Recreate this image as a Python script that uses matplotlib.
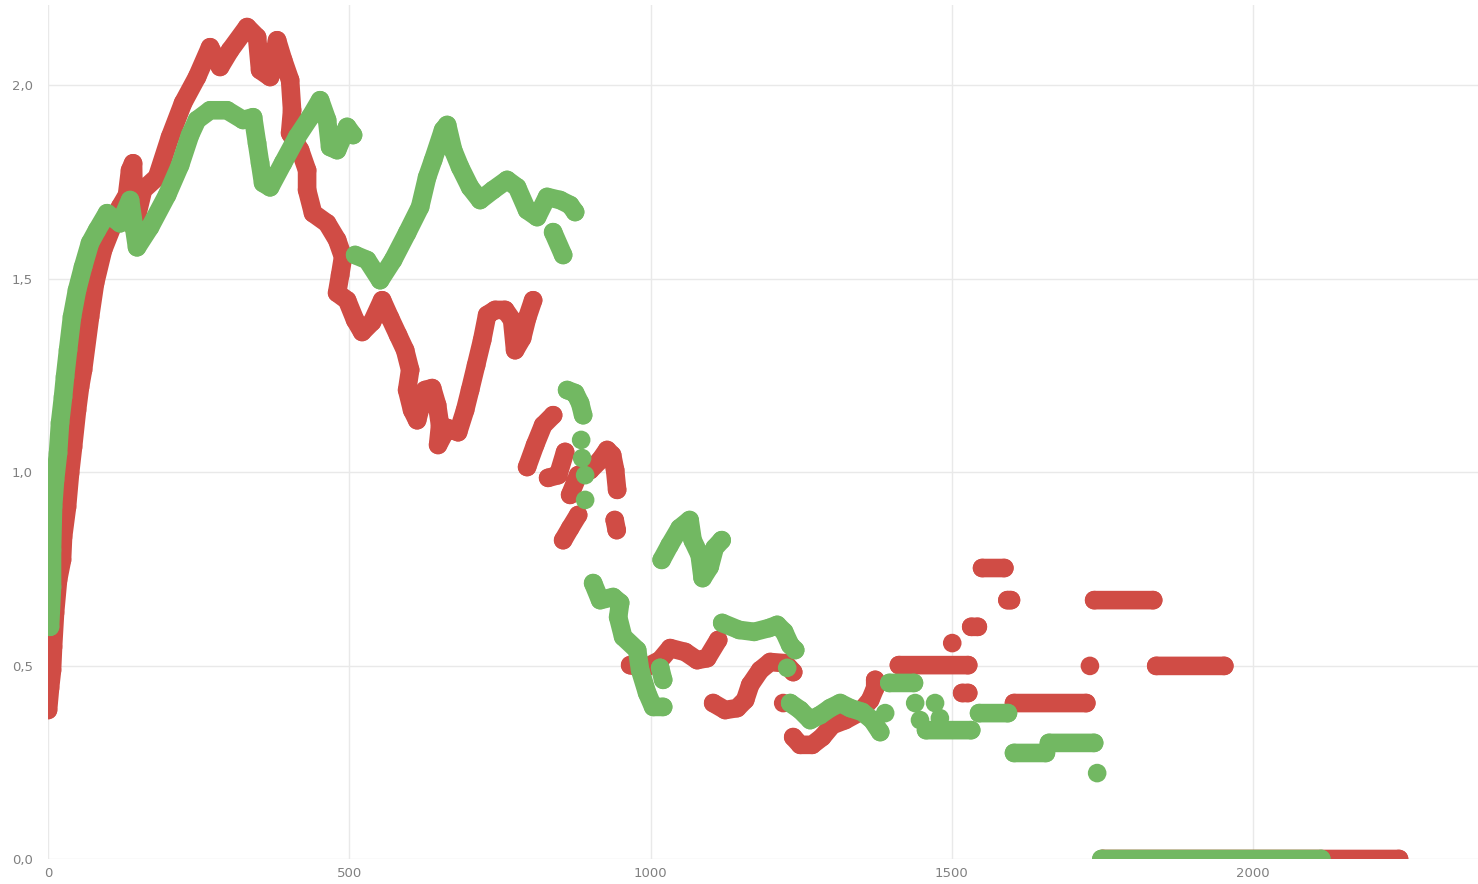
import numpy as np
import matplotlib
matplotlib.use('Agg')
import matplotlib.pyplot as plt

nan = np.nan

# Red series (segments separated by nan, lone values are single dots)
red_x = [0, 3.3, 6.6, 8.3, 11.6, 16.6, 23.2, 24.9, 31.5, 36.5, 41.5, 48.1, 53.1, 58.1,
         69.7, 78.0, 91.3, 106.2, 119.5, 131.1, 136.1, 141.1, 142.7, 157.7, 180.9, 202.5,
         224.1, 247.3, 268.9, 285.5, 302.1, 330.3, 346.9, 351.9, 368.5, 380.1, 390.1,
         401.7, 405.0, 401.7, 418.3, 429.9, 429.9, 439.8, 463.1, 479.7, 489.6, 484.7,
         479.7, 496.3, 509.6, 521.2, 537.8, 554.4, 567.7, 580.9, 592.6, 600.9, 595.9,
         604.2, 612.5, 625.7, 637.4, 645.7, 650.6, 647.3, 662.3, 680.5, 692.1, 700.4,
         710.4, 720.4, 728.7, 741.9, 758.5, 770.2, 775.1, 786.7, 795.0, 805.0, nan,
         795.0, 808.3, 821.6, 838.2, nan,
         829.9, 846.5, 858.1, nan,
         866.4, 879.7, 899.6, 916.2, 927.8, 936.1, 941.1, 944.4, nan,
         854.8, 866.4, 879.7, nan,
         940.4, 943.7, nan,
         966.0, 990.9, 1015.8, 1032.4, 1057.3, 1077.2, 1093.8, 1112.1, nan,
         1103.8, 1123.7, 1143.6, 1156.9, 1165.2, 1181.8, 1198.4, 1223.3, 1236.6, nan,
         1220.0, nan,
         1236.6, 1248.2, 1268.1, 1284.7, 1301.3, 1322.9, 1347.8, 1364.4, 1372.7, 1372.7, nan,
         1412, 1527, nan, 1517, 1527, nan, 1500.5, nan, 1532, 1543, nan,
         1550, 1587, nan, 1592, 1598, nan, 1603, 1723, nan, 1729, nan,
         1839, 1952, nan, 1736, 1834, nan, 1750, 2242]
red_y = [0.385, 0.442, 0.488, 0.548, 0.636, 0.721, 0.773, 0.832, 0.910, 0.997, 1.065, 1.160,
         1.220, 1.264, 1.401, 1.488, 1.574, 1.633, 1.685, 1.716, 1.780, 1.798, 1.631, 1.729,
         1.762, 1.866, 1.954, 2.021, 2.098, 2.047, 2.090, 2.150, 2.124, 2.039, 2.021, 2.116,
         2.065, 2.013, 1.935, 1.876, 1.832, 1.780, 1.729, 1.669, 1.643, 1.600, 1.556, 1.509,
         1.463, 1.444, 1.393, 1.362, 1.388, 1.444, 1.398, 1.354, 1.315, 1.264, 1.212, 1.160,
         1.134, 1.212, 1.217, 1.173, 1.121, 1.070, 1.114, 1.103, 1.160, 1.212, 1.276, 1.341,
         1.406, 1.419, 1.419, 1.393, 1.315, 1.346, 1.398, 1.444, nan,
         1.013, 1.070, 1.121, 1.147, nan,
         0.985, 0.992, 1.052, nan,
         0.941, 0.992, 1.005, 1.031, 1.057, 1.044, 1.005, 0.954, nan,
         0.824, 0.855, 0.889, nan,
         0.876, 0.850, nan,
         0.501, 0.494, 0.514, 0.545, 0.535, 0.514, 0.519, 0.566, nan,
         0.403, 0.385, 0.390, 0.411, 0.450, 0.488, 0.509, 0.506, 0.483, nan,
         0.403, nan,
         0.315, 0.295, 0.295, 0.315, 0.346, 0.359, 0.380, 0.411, 0.442, 0.463, nan,
         0.501, 0.501, nan, 0.429, 0.429, nan, 0.558, nan, 0.600, 0.600, nan,
         0.752, 0.752, nan, 0.669, 0.669, nan, 0.403, 0.403, nan, 0.499, nan,
         0.499, 0.499, nan, 0.669, 0.669, nan, 0.0, 0.0]

# Green series
green_x = [3.3, 6.6, 6.6, 8.3, 11.6, 16.6, 19.9, 24.9, 28.2, 33.2, 39.8, 48.1, 58.1, 69.7,
           81.3, 97.9, 119.5, 136.1, 147.7, 169.3, 197.6, 219.1, 235.7, 247.3, 268.9,
           297.1, 323.6, 340.3, 346.9, 351.9, 356.9, 368.5, 390.1, 413.3, 434.9, 451.5,
           463.1, 468.1, 479.7, 496.3, 506.2, nan,
           509.6, 529.5, 551.1, 572.6, 595.9, 617.4, 629.1, 639.0, 655.6, 662.3, 672.2,
           683.8, 700.4, 717.0, 738.6, 761.8, 778.4, 795.0, 811.6, 828.2, 849.8, 866.4,
           874.7, nan,
           838.2, 854.8, nan,
           861.4, 874.7, 883.0, 888.0, nan,
           884.7, nan, 886.3, nan, 891.3, nan, 891.3, nan,
           904.6, 916.2, 937.8, 949.4, 946.1, 954.4, 977.6, 982.6, 994.2, 1004.2, 1020.8, nan,
           1020.8, 1015.8, nan,
           1018.3, 1031.5, 1048.1, 1064.7, 1069.7, 1081.3, 1086.3, 1098.0, 1106.3, 1117.9, nan,
           1118.8, 1146.9, 1171.8, 1196.7, 1210.0, 1221.6, 1231.6, 1239.9, nan,
           1226.6, nan,
           1231.6, 1248.2, 1264.8, 1281.4, 1298.0, 1314.6, 1331.2, 1351.1, 1367.7, 1381.0, nan,
           1389.2, nan,
           1396, 1437, nan, 1439, nan, 1472, nan, 1447, nan, 1480, nan,
           1457, 1532, nan, 1545, 1593, nan, 1603, 1656, nan, 1661, 1736, nan,
           1741, nan, 1748, 2113]
green_y = [0.600, 0.703, 0.798, 0.910, 0.979, 1.049, 1.127, 1.194, 1.246, 1.315, 1.401, 1.470,
           1.530, 1.592, 1.625, 1.669, 1.643, 1.703, 1.581, 1.633, 1.716, 1.793, 1.871, 1.910,
           1.935, 1.935, 1.910, 1.917, 1.850, 1.799, 1.747, 1.736, 1.799, 1.866, 1.917, 1.961,
           1.910, 1.840, 1.832, 1.892, 1.871, nan,
           1.561, 1.548, 1.496, 1.548, 1.618, 1.685, 1.762, 1.806, 1.884, 1.897, 1.832, 1.788,
           1.736, 1.703, 1.729, 1.755, 1.736, 1.677, 1.659, 1.711, 1.703, 1.690, 1.672, nan,
           1.620, 1.561, nan,
           1.212, 1.204, 1.178, 1.147, nan,
           1.083, nan, 1.036, nan, 0.992, nan, 0.928, nan,
           0.713, 0.669, 0.677, 0.662, 0.625, 0.574, 0.540, 0.488, 0.429, 0.393, 0.393, nan,
           0.463, 0.494, nan,
           0.773, 0.811, 0.855, 0.876, 0.824, 0.786, 0.726, 0.755, 0.804, 0.824, nan,
           0.610, 0.592, 0.587, 0.597, 0.605, 0.587, 0.553, 0.540, nan,
           0.494, nan,
           0.403, 0.385, 0.359, 0.372, 0.390, 0.403, 0.390, 0.380, 0.359, 0.328, nan,
           0.377, nan,
           0.455, 0.455, nan, 0.403, nan, 0.403, nan, 0.359, nan, 0.364, nan,
           0.333, 0.333, nan, 0.377, 0.377, nan, 0.274, 0.274, nan, 0.300, 0.300, nan,
           0.222, nan, 0.0, 0.0]

x_ticks = [0, 500, 1000, 1500, 2000]
y_ticks = [0.0, 0.5, 1.0, 1.5, 2.0]
y_tick_labels = ['0,0', '0,5', '1,0', '1,5', '2,0']

red = '#d04c45'
green = '#72b862'
lw = 13.4  # points, about the diameter of one dot

fig = plt.figure(figsize=(14.78, 8.84), dpi=100)
ax = fig.add_axes([0.0325, 0.0283, 0.9675, 0.966])

for xs, ys, c, z in [(red_x, red_y, red, 3), (green_x, green_y, green, 4)]:
    ax.plot(xs, ys, color=c, lw=lw, solid_capstyle='round', solid_joinstyle='round', zorder=z)
    ax.scatter(xs, ys, s=lw ** 2, color=c, edgecolors='none', zorder=z)

ax.set_xlim(0, 2373)
ax.set_ylim(0, 2.207)
ax.set_xticks(x_ticks)
ax.set_xticklabels([str(t) for t in x_ticks])
ax.set_yticks(y_ticks)
ax.set_yticklabels(y_tick_labels)
ax.grid(True, color='#e9e9e9', lw=1)
ax.set_axisbelow(True)
for s in ax.spines.values():
    s.set_visible(False)
ax.tick_params(length=0, labelsize=9.5, labelcolor='#808080')
ax.tick_params(axis='y', pad=11)
ax.tick_params(axis='x', pad=6)

fig.savefig('out.png', dpi=100)
